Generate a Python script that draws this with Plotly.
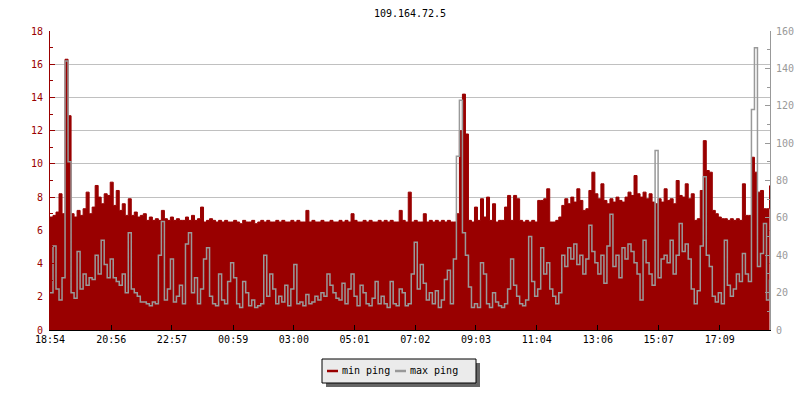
import pandas as pd
import plotly.graph_objects as go

# ---------------- data (one sample every 6 minutes) ----------------
start_time = "2000-01-01 18:54"
sample_step = "6min"

min_ping = [  # ms, left axis
    6.8, 6.9, 7.1, 8.2, 7.0, 16.3, 12.9, 7.0, 6.8, 7.2,
    6.9, 7.3, 8.3, 7.0, 7.4, 8.7, 8.0, 7.6, 8.2, 8.1,
    8.9, 7.5, 8.4, 7.2, 7.6, 6.9, 7.9, 6.9, 7.1, 6.8,
    6.9, 7.0, 6.6, 6.8, 6.6, 6.7, 6.6, 7.2, 6.7, 6.6,
    6.8, 6.6, 6.7, 6.6, 6.6, 6.8, 6.6, 6.9, 6.6, 6.7,
    7.4, 6.5, 6.6, 6.7, 6.6, 6.5, 6.6, 6.5, 6.6, 6.5,
    6.5, 6.6, 6.5, 6.4, 6.6, 6.5, 6.5, 6.6, 6.4, 6.5,
    6.6, 6.5, 6.6, 6.5, 6.5, 6.6, 6.5, 6.6, 6.5, 6.5,
    6.6, 6.5, 6.6, 6.5, 6.5, 7.2, 6.5, 6.6, 6.5, 6.5,
    6.6, 6.5, 6.5, 6.6, 6.5, 6.5, 6.6, 6.5, 6.6, 6.5,
    7.0, 6.6, 6.5, 6.5, 6.6, 6.5, 6.6, 6.5, 6.5, 6.6,
    6.5, 6.6, 6.5, 6.6, 6.5, 6.5, 7.2, 6.6, 6.5, 8.3,
    6.5, 6.6, 6.5, 6.5, 7.0, 6.5, 6.6, 6.5, 6.6, 6.5,
    6.6, 6.5, 6.6, 6.5, 6.5, 7.0, 12.0, 14.2, 11.8, 6.6,
    6.5, 7.4, 6.6, 7.9, 6.8, 8.0, 6.6, 7.6, 6.5, 6.6,
    6.6, 7.4, 8.1, 6.6, 8.1, 7.9, 6.6, 6.5, 6.6, 6.5,
    6.6, 6.5, 7.8, 7.8, 7.9, 8.5, 6.5, 6.5, 6.6, 6.8,
    7.5, 7.9, 7.6, 8.0, 7.7, 8.5, 7.8, 7.2, 7.3, 8.4,
    9.5, 8.2, 7.9, 8.8, 7.8, 7.6, 7.9, 7.7, 8.0, 7.8,
    7.7, 8.0, 8.3, 8.1, 9.3, 8.2, 8.0, 8.3, 7.9, 8.2,
    7.7, 7.6, 7.9, 7.7, 8.5, 7.8, 7.9, 7.6, 9.0, 8.1,
    8.0, 8.8, 7.9, 8.2, 6.6, 6.7, 8.4, 11.4, 9.6, 9.5,
    7.2, 7.0, 6.8, 6.7, 6.7, 6.6, 6.7, 6.6, 6.7, 6.6,
    8.8, 6.9, 6.9, 10.4, 9.5, 8.3, 8.4, 7.3, 7.3, 8.7,
]

max_ping = [  # ms, right axis
    20, 45, 22, 16, 28, 144, 90, 20, 17, 42,
    22, 30, 24, 28, 27, 40, 30, 48, 35, 28,
    38, 28, 26, 24, 30, 20, 52, 22, 20, 18,
    15, 15, 14, 13, 15, 14, 40, 58, 16, 22,
    38, 15, 18, 24, 14, 46, 52, 20, 28, 14,
    22, 38, 44, 18, 14, 13, 30, 16, 14, 26,
    36, 28, 14, 12, 26, 20, 13, 16, 12, 13,
    14, 40, 18, 30, 22, 14, 18, 15, 24, 13,
    22, 35, 14, 15, 13, 19, 14, 15, 18, 16,
    20, 18, 30, 24, 20, 17, 16, 25, 14, 22,
    30, 18, 13, 24, 20, 14, 13, 17, 26, 14,
    18, 14, 12, 26, 14, 13, 22, 20, 13, 14,
    30, 47, 22, 35, 25, 16, 20, 14, 21, 12,
    16, 27, 32, 14, 38, 93, 123, 52, 40, 23,
    12, 14, 12, 36, 30, 14, 12, 20, 15, 13,
    12, 14, 22, 38, 24, 18, 14, 13, 16, 50,
    26, 18, 22, 44, 30, 36, 22, 18, 14, 20,
    40, 34, 44, 38, 46, 35, 40, 30, 38, 56,
    42, 36, 30, 40, 25, 45, 62, 34, 40, 28,
    44, 38, 46, 42, 36, 30, 16, 48, 36, 30,
    24, 96, 28, 38, 40, 36, 48, 30, 40, 57,
    42, 46, 38, 22, 14, 21, 45, 82, 40, 34,
    18, 15, 20, 14, 48, 24, 18, 22, 30, 26,
    41, 30, 26, 118, 151, 34, 41, 57, 16, 27,
]

tick_labels = ["18:54", "20:56", "22:57", "00:59", "03:00", "05:01",
               "07:02", "09:03", "11:04", "13:06", "15:07", "17:09"]
tick_times = ["2000-01-01 18:54", "2000-01-01 20:56", "2000-01-01 22:57",
              "2000-01-02 00:59", "2000-01-02 03:00", "2000-01-02 05:01",
              "2000-01-02 07:02", "2000-01-02 09:03", "2000-01-02 11:04",
              "2000-01-02 13:06", "2000-01-02 15:07", "2000-01-02 17:09"]
x_end = "2000-01-02 18:49"

title_text = "109.164.72.5"
series_names = ["min ping", "max ping"]

# ---------------- styling ----------------
RED = "#990000"
GRAY = "#999999"
GRID = "#c0c0c0"
FONT = "DejaVu Sans Mono"

W, H = 800, 400
L, R, T, B = 50, 30, 31, 70

times = pd.date_range(start_time, periods=len(min_ping), freq=sample_step)

fig = go.Figure()
fig.add_trace(go.Scatter(
    x=times, y=min_ping, name=series_names[0], mode="lines",
    line=dict(color=RED, width=1, shape="hv"),
    fill="tozeroy", fillcolor=RED, yaxis="y", hoverinfo="x+y"))
fig.add_trace(go.Scatter(
    x=times, y=max_ping, name=series_names[1], mode="lines",
    line=dict(color=GRAY, width=1.5, shape="hv"),
    yaxis="y2", hoverinfo="x+y"))

def px(xp):
    return (xp - L) / (W - L - R)

def py(yp):
    return (H - B - yp) / (H - T - B)

shapes = [
    # legend shadow + box
    dict(type="rect", xref="paper", yref="paper", x0=px(326), x1=px(480), y0=py(387), y1=py(363),
         fillcolor="#666666", line=dict(width=0), layer="above"),
    dict(type="rect", xref="paper", yref="paper", x0=px(322), x1=px(476), y0=py(383), y1=py(359),
         fillcolor="#ebebeb", line=dict(color="black", width=1), layer="above"),
    dict(type="line", xref="paper", yref="paper", x0=px(327), x1=px(338), y0=py(371), y1=py(371),
         line=dict(color=RED, width=2.5), layer="above"),
    dict(type="line", xref="paper", yref="paper", x0=px(395), x1=px(406), y0=py(371), y1=py(371),
         line=dict(color=GRAY, width=2.5), layer="above"),
]
annotations = [
    dict(text=series_names[0], xref="paper", yref="paper", x=px(340), y=py(370.5),
         xanchor="left", yanchor="middle", showarrow=False, font=dict(family=FONT, size=10, color="black")),
    dict(text=series_names[1], xref="paper", yref="paper", x=px(408), y=py(370.5),
         xanchor="left", yanchor="middle", showarrow=False, font=dict(family=FONT, size=10, color="black")),
]

fig.update_layout(
    width=W, height=H,
    margin=dict(l=L, r=R, t=T, b=B, autoexpand=False),
    paper_bgcolor="white", plot_bgcolor="white",
    showlegend=False,
    title=dict(text=title_text, x=px(410), xref="paper", xanchor="center",
               y=1 - 13 / H, yref="container", yanchor="middle",
               font=dict(family=FONT, size=10, color="black")),
    font=dict(family=FONT, size=10),
    xaxis=dict(
        type="date", range=[times[0], x_end], automargin=False,
        tickmode="array", tickvals=tick_times, ticktext=tick_labels,
        ticks="inside", ticklen=5, tickcolor="black", tickwidth=1,
        showline=True, linecolor="black", linewidth=1,
        showgrid=False, zeroline=False,
        tickfont=dict(family=FONT, size=10, color="black"),
    ),
    yaxis=dict(
        range=[0, 18], tickmode="linear", tick0=0, dtick=2, automargin=False,
        ticks="inside", ticklen=5, tickcolor=RED, tickwidth=1,
        minor=dict(dtick=1, ticks="inside", ticklen=3, tickcolor=RED, showgrid=False),
        showline=True, linecolor=RED, linewidth=1,
        showgrid=True, gridcolor=GRID, gridwidth=1, zeroline=False,
        tickfont=dict(family=FONT, size=10, color=RED),
        ticklabelstandoff=4,
    ),
    yaxis2=dict(
        range=[0, 160], tickmode="linear", tick0=0, dtick=20, automargin=False,
        overlaying="y", side="right",
        ticks="inside", ticklen=5, tickcolor=GRAY, tickwidth=1,
        minor=dict(dtick=10, ticks="inside", ticklen=3, tickcolor=GRAY, showgrid=False),
        showline=True, linecolor=GRAY, linewidth=1,
        showgrid=False, zeroline=False,
        tickfont=dict(family=FONT, size=10, color=GRAY),
        ticklabelstandoff=3,
    ),
    shapes=shapes,
    annotations=annotations,
)

fig.write_html("out.html", config={"displayModeBar": False},
               post_script="document.body.style.margin='0';document.body.style.padding='0';")
